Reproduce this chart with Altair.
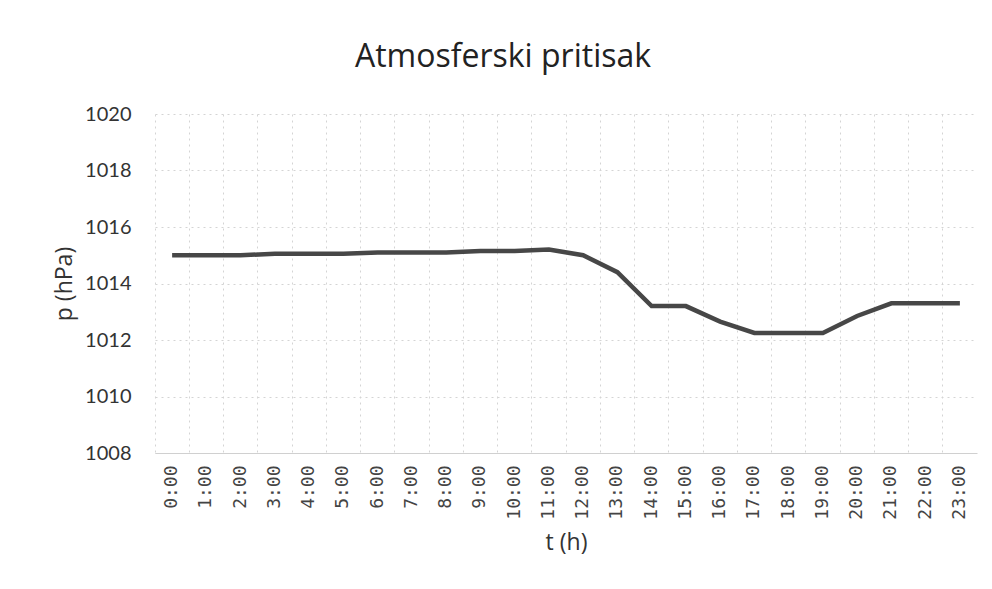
import altair as alt
import pandas as pd

hours = [f"{h}:00" for h in range(24)]
pressure = [1015.0, 1015.0, 1015.0, 1015.05, 1015.05, 1015.05, 1015.1, 1015.1, 1015.1,
            1015.15, 1015.15, 1015.2, 1015.0, 1014.4, 1013.2, 1013.2, 1012.65, 1012.25,
            1012.25, 1012.25, 1012.85, 1013.3, 1013.3, 1013.3]
y_ticks = [1008, 1010, 1012, 1014, 1016, 1018, 1020]

df = pd.DataFrame({"t": hours, "p": pressure})

chart = alt.Chart(df).mark_line(color="#474747", strokeWidth=4.5).encode(
    x=alt.X("t:O", sort=hours, title="t (h)", bandPosition=0.5,
            scale=alt.Scale(type="band", paddingInner=0, paddingOuter=0),
            axis=alt.Axis(labelAngle=-90, labelFont="DejaVu Sans Mono", labelFontSize=18,
                          labelColor="#444", labelPadding=12, ticks=False,
                          domain=True, domainColor="#d0d0d0",
                          grid=True, gridColor="#d4d4d4", gridDash=[2, 4],
                          bandPosition=0,
                          titleFont="Open Sans", titleFontSize=23, titleFontWeight="normal",
                          titleColor="#333", titlePadding=12)),
    y=alt.Y("p:Q", title="p (hPa)",
            scale=alt.Scale(domain=[1008, 1020], nice=False, zero=False),
            axis=alt.Axis(values=y_ticks, format="d", labelFont="Lato",
                          labelFontSize=20, labelColor="#333", labelPadding=24,
                          ticks=False, domain=False,
                          grid=True, gridColor="#d4d4d4", gridDash=[2, 4],
                          titleFont="Open Sans", titleFontSize=23, titleFontWeight="normal",
                          titleColor="#333", titlePadding=8)),
).properties(
    width=822, height=339,
    title=alt.TitleParams("Atmosferski pritisak", font="Open Sans", fontSize=32,
                          fontWeight="normal", color="#222", offset=30, dx=-63),
    padding={"left": 45, "top": 33, "right": 5, "bottom": 5},
).configure_view(stroke=None)

chart.save("out.html", embed_options={"renderer": "svg", "actions": False})
